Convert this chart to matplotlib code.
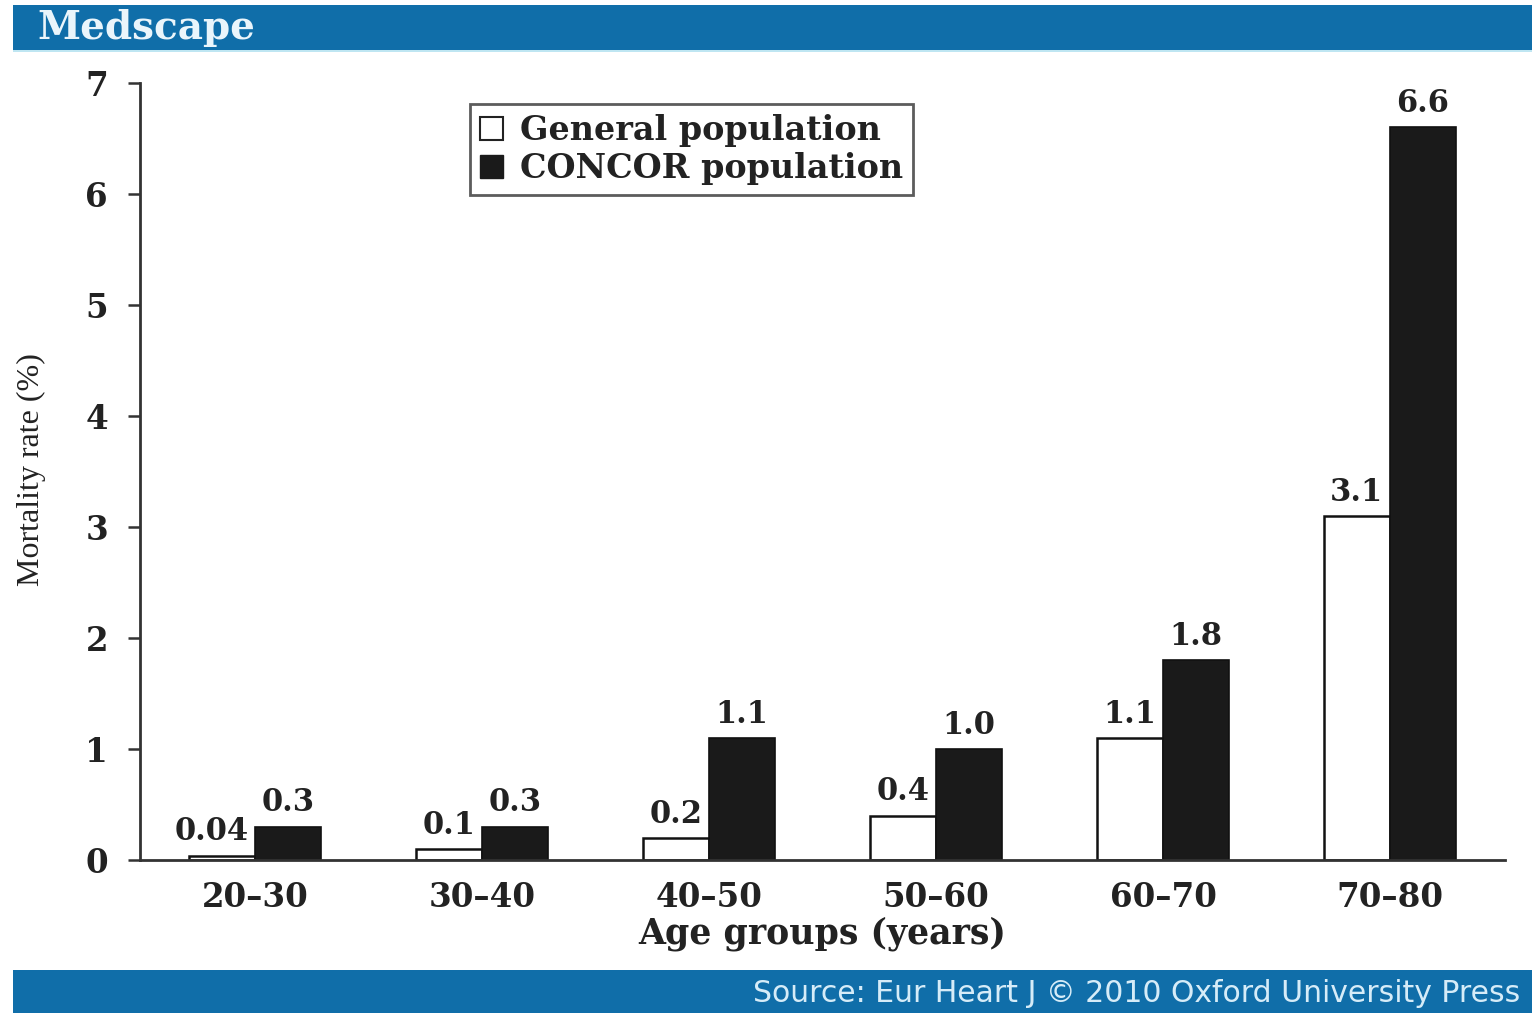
import matplotlib
matplotlib.use("Agg")
import matplotlib.pyplot as plt
from matplotlib.patches import Rectangle, Patch
import numpy as np

# mortality by age group, general vs CONCOR population
age_groups = ["20\u201330", "30\u201340", "40\u201350", "50\u201360", "60\u201370", "70\u201380"]
general = [0.04, 0.1, 0.2, 0.4, 1.1, 3.1]
concor = [0.3, 0.3, 1.1, 1.0, 1.8, 6.6]
general_labels = ["0.04", "0.1", "0.2", "0.4", "1.1", "3.1"]
concor_labels = ["0.3", "0.3", "1.1", "1.0", "1.8", "6.6"]
yticks = [0, 1, 2, 3, 4, 5, 6, 7]

W, H = 1532, 1013
blue = "#106ea9"
serif_bold = dict(family="DejaVu Serif", weight="bold")

fig = plt.figure(figsize=(W / 100, H / 100), dpi=100)
fig.patch.set_facecolor("white")

# header and footer bands
fig.patches.append(Rectangle((13 / W, 1 - 50 / H), 1 - 13 / W, 45 / H,
                             transform=fig.transFigure, facecolor=blue, edgecolor="none"))
fig.patches.append(Rectangle((13 / W, 1 - 52 / H), 1 - 13 / W, 2 / H,
                             transform=fig.transFigure, facecolor="#bfe6f2", edgecolor="none"))
fig.patches.append(Rectangle((13 / W, 0), 1 - 13 / W, 43 / H,
                             transform=fig.transFigure, facecolor=blue, edgecolor="none"))
fig.text(37 / W, 1 - 28 / H, "Medscape", color="#eaf5fb", fontsize=28,
         family="DejaVu Serif", weight="bold", ha="left", va="center")
fig.text(1520 / W, 20 / H, "Source: Eur Heart J \u00a9 2010 Oxford University Press",
         color="#d6ecf8", fontsize=21.5, family="DejaVu Sans", ha="right", va="center")

ax = fig.add_axes([140 / W, 153 / H, 1365 / W, 777 / H])
x = np.arange(len(age_groups))
w = 0.29
ax.bar(x - w / 2, general, w, facecolor="white", edgecolor="#111111", linewidth=1.8)
ax.bar(x + w / 2, concor, w, facecolor="#1a1a1a", edgecolor="#111111", linewidth=1.2)

for xi, v, t in zip(x, general, general_labels):
    ax.annotate(t, (xi - 0.03, v), xytext=(0, 11), textcoords="offset points",
                ha="right", va="baseline", fontsize=22, color="#222222", **serif_bold)
for xi, v, t in zip(x, concor, concor_labels):
    ax.annotate(t, (xi + w / 2, v), xytext=(0, 11), textcoords="offset points",
                ha="center", va="baseline", fontsize=22, color="#222222", **serif_bold)

ax.set_xlim(-0.507, 5.507)
ax.set_ylim(0, 7)
ax.set_yticks(yticks)
ax.set_xticks(x)
ax.set_xticklabels(age_groups)
for s in ["top", "right"]:
    ax.spines[s].set_visible(False)
for s in ["left", "bottom"]:
    ax.spines[s].set_linewidth(2)
    ax.spines[s].set_color("#333333")
ax.tick_params(axis="y", length=9, width=1.8, color="#333333", pad=14)
ax.tick_params(axis="x", length=0, pad=15)
for lab in ax.get_xticklabels() + ax.get_yticklabels():
    lab.set_fontfamily("DejaVu Serif")
    lab.set_fontweight("bold")
    lab.set_fontsize(23.5)
    lab.set_color("#222222")

ax.set_xlabel("Age groups (years)", fontsize=25, color="#222222", labelpad=2, **serif_bold)
fig.text(31 / W, 1 - 470 / H, "Mortality rate (%)", rotation=90, fontsize=23,
         family="Liberation Serif", color="#222222", ha="center", va="center")

handles = [Patch(facecolor="white", edgecolor="#222222", linewidth=1.5),
           Patch(facecolor="#1a1a1a", edgecolor="#1a1a1a")]
leg = ax.legend(handles, ["General population", "CONCOR population"],
                loc="upper left", bbox_to_anchor=(470 / W, 1 - 104 / H),
                bbox_transform=fig.transFigure, borderaxespad=0,
                prop=dict(family="DejaVu Serif", weight="bold", size=24),
                fancybox=False, handlelength=0.7, handleheight=0.7,
                handletextpad=0.5, labelspacing=0.15, borderpad=0.3)
leg.get_frame().set_edgecolor("#333333")
leg.get_frame().set_linewidth(2)
for t in leg.get_texts():
    t.set_color("#222222")

fig.savefig("out.png", dpi=100)
